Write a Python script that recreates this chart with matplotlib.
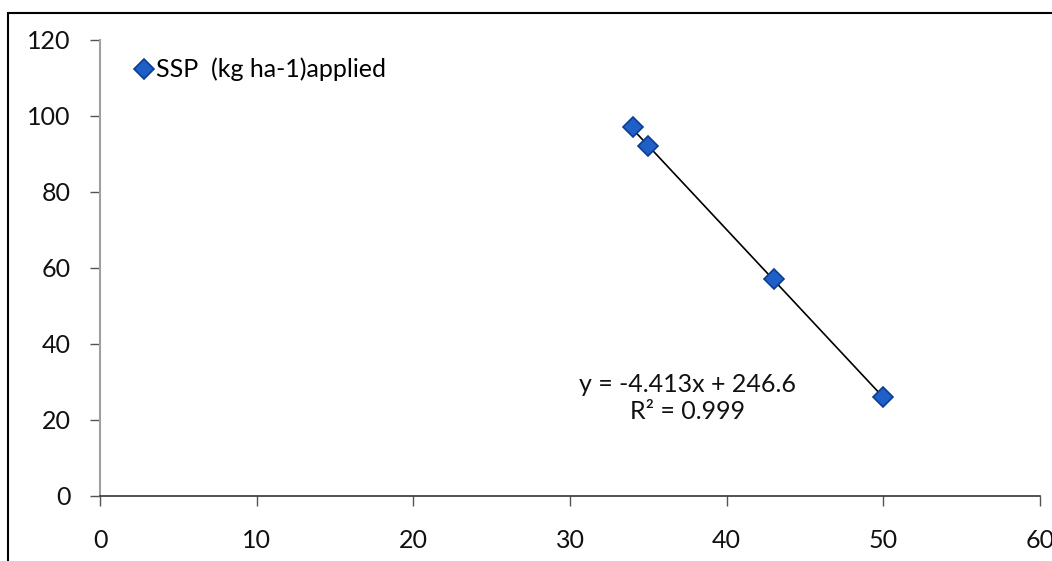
import numpy as np
import matplotlib.pyplot as plt
from matplotlib.patches import Rectangle

# data
ssp_x = [34, 35, 43, 50]
ssp_y = [97, 92, 57, 26]
slope, intercept = -4.413, 246.6
x_ticks = [0, 10, 20, 30, 40, 50, 60]
y_ticks = [0, 20, 40, 60, 80, 100, 120]

plt.rcParams['font.family'] = ['Lato', 'DejaVu Sans']

fig = plt.figure(figsize=(10.52, 5.61), dpi=100)
ax = fig.add_axes([0.0951, 0.1159, 0.8935, 0.8128])

# trendline
xs = np.array([min(ssp_x), max(ssp_x)])
ax.plot(xs, slope * xs + intercept, color='black', lw=1.2, zorder=2)
ax.plot(ssp_x, ssp_y, linestyle='none', marker='D', markersize=10.5,
        markerfacecolor='#1f5fc8', markeredgecolor='#0b3d91', markeredgewidth=1.2,
        zorder=3, label='SSP  (kg ha-1)applied')

ax.set_xlim(0, 60)
ax.set_ylim(0, 120)
ax.set_xticks(x_ticks)
ax.set_yticks(y_ticks)
ax.spines['top'].set_visible(False)
ax.spines['right'].set_visible(False)
ax.spines['left'].set_color('#a0a0a0')
ax.spines['left'].set_linewidth(1.5)
ax.spines['bottom'].set_color('#333333')
ax.spines['bottom'].set_linewidth(1.2)
ax.tick_params(direction='out', length=7, width=1, color='#555555',
               labelsize=18, labelcolor='#111111')
ax.tick_params(axis='x', pad=17)
ax.tick_params(axis='y', pad=14)

ax.legend(loc='center left', bbox_to_anchor=(0.036, 0.935), frameon=False,
          fontsize=18, handletextpad=0.1, handlelength=0.8, borderaxespad=0,
          borderpad=0)

ax.text(0.6255, 0.215, 'y = -4.413x + 246.6\nR² = 0.999', transform=ax.transAxes,
        ha='center', va='center', fontsize=18, linespacing=1.25, color='#111111')

# outer chart border (cropped at right and bottom)
fig.patches.append(Rectangle((8 / 1052, -0.05), 1.1, (561 - 13) / 561 + 0.05,
                             transform=fig.transFigure, fill=False,
                             edgecolor='black', lw=1.5))

fig.savefig('out.png', dpi=100)
